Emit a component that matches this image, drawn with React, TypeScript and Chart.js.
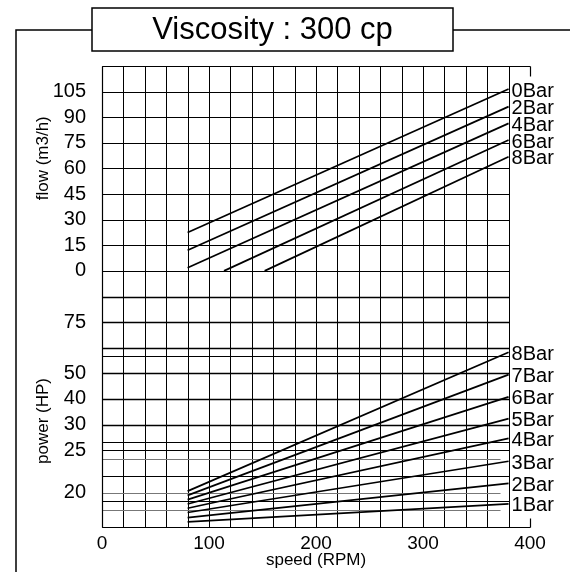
import React, { useEffect, useRef } from 'react';
import { Chart, registerables } from 'chart.js';

Chart.register(...registerables);

// ---- data ----
const titleText = 'Viscosity : 300 cp';

const flowSeries = ['0Bar', '2Bar', '4Bar', '6Bar', '8Bar'];
const flowStartSpeed = [80, 80, 80, 114, 152];
const flowStartValue = [22.5, 12.1, 1.8, 0, 0];
const flowEndSpeed = [380, 380, 380, 380, 380];
const flowEndValue = [106.5, 96.2, 86.4, 76.6, 66.8];

const powerSeries = ['1Bar', '2Bar', '3Bar', '4Bar', '5Bar', '6Bar', '7Bar', '8Bar'];
const powerStartSpeed = [80, 80, 80, 80, 80, 80, 80, 80];
const powerStartHP = [16.6, 17.1, 17.7, 18.2, 18.7, 19.2, 19.7, 20.2];
const powerEndSpeed = [380, 380, 380, 380, 380, 380, 380, 380];
const powerEndHP = [18.7, 21.1, 23.7, 27.3, 32.3, 40.8, 49.5, 60.3];

// tick labels
const xTicks = [0, 100, 200, 300, 400];
const flowTicks = [0, 15, 30, 45, 60, 75, 90, 105];
const powerTicks = [20, 25, 30, 40, 50, 75];
// where the (broken, non-linear) power ticks sit on the shared vertical axis
const powerTickPos = [-130, -105, -90, -75, -60, -30];

// shared vertical axis range and grid
const axisMin = -150;
const axisMax = 120;
const gridSpeeds = [0, 20, 40, 60, 80, 100, 120, 140, 160, 180, 200, 220, 240, 260, 280, 300, 320, 340, 360, 380];
const gridLevels = [120, 105, 90, 75, 60, 45, 30, 15, 0, -15, -30, -45, -50, -60, -75, -90, -100, -105, -120, -135, -150];
const heavyLevels = [-15, -30, -45, -60, -75, -90];
const shortLevels = [-110, -130, -140];
const gridEnd = 380;
const shortEnd = 372;

// map horsepower onto the shared vertical axis (piecewise through tick positions)
function hpToAxis(hp: number): number {
  const n = powerTicks.length;
  let i = 0;
  if (hp <= powerTicks[0]) i = 0;
  else if (hp >= powerTicks[n - 1]) i = n - 2;
  else {
    while (i < n - 2 && hp > powerTicks[i + 1]) i++;
  }
  const h0 = powerTicks[i], h1 = powerTicks[i + 1];
  const p0 = powerTickPos[i], p1 = powerTickPos[i + 1];
  return p0 + ((hp - h0) / (h1 - h0)) * (p1 - p0);
}

const FONT_HELV = '"Liberation Sans", Arial, Helvetica, sans-serif';

const gridPlugin = {
  id: 'customGrid',
  beforeDatasetsDraw(chart: any) {
    const { ctx, scales } = chart;
    const x = scales.x, y = scales.y;
    const X = (v: number) => Math.round(x.getPixelForValue(v)) + 0.5;
    const Y = (v: number) => Math.round(y.getPixelForValue(v)) + 0.5;
    const line = (x1: number, y1: number, x2: number, y2: number) => {
      ctx.beginPath();
      ctx.moveTo(x1, y1);
      ctx.lineTo(x2, y2);
      ctx.stroke();
    };
    ctx.save();
    ctx.strokeStyle = '#000';
    ctx.lineWidth = 1;
    for (const s of gridSpeeds) line(X(s), Y(axisMax), X(s), Y(axisMin));
    for (const lv of gridLevels) {
      ctx.lineWidth = heavyLevels.includes(lv) ? 1.6 : 1;
      line(X(0), Y(lv), X(gridEnd), Y(lv));
    }
    ctx.lineWidth = 1;
    ctx.strokeStyle = '#777';
    for (const lv of shortLevels) line(X(0), Y(lv), X(shortEnd), Y(lv));
    // frame
    ctx.strokeStyle = '#000';
    ctx.lineWidth = 1.2;
    line(X(0), Y(axisMax), X(400), Y(axisMax));
    line(X(0), Y(axisMin), X(400), Y(axisMin));
    line(X(0), Y(axisMax), X(0), Y(axisMin));
    line(X(400), Y(axisMax), X(400), Y(axisMax) + 10);
    line(X(400), Y(axisMin), X(400), Y(axisMin) - 9);
    ctx.restore();
  },
  afterDatasetsDraw(chart: any) {
    const { ctx } = chart;
    ctx.save();
    ctx.fillStyle = '#000';
    ctx.font = `20px ${FONT_HELV}`;
    ctx.textAlign = 'left';
    ctx.textBaseline = 'middle';
    chart.data.datasets.forEach((ds: any, i: number) => {
      const meta = chart.getDatasetMeta(i);
      const pt = meta.data[meta.data.length - 1];
      ctx.fillText(ds.label, pt.x + 3, pt.y + 2);
    });
    ctx.restore();
  },
  afterDraw(chart: any) {
    const { ctx, scales } = chart;
    const y = scales.y;
    ctx.save();
    // outer frame and title box
    ctx.strokeStyle = '#000';
    ctx.lineWidth = 1.5;
    const boxL = 92, boxR = 453, boxT = 8, boxB = 51, frameY = 30, frameX = 16;
    ctx.beginPath();
    ctx.moveTo(frameX, 572);
    ctx.lineTo(frameX, frameY);
    ctx.lineTo(boxL, frameY);
    ctx.moveTo(boxR, frameY);
    ctx.lineTo(570, frameY);
    ctx.stroke();
    ctx.strokeRect(boxL, boxT, boxR - boxL, boxB - boxT);
    ctx.fillStyle = '#000';
    ctx.font = `31px ${FONT_HELV}`;
    ctx.textAlign = 'center';
    ctx.textBaseline = 'middle';
    ctx.fillText(titleText, (boxL + boxR) / 2, (boxT + boxB) / 2 + 1);
    // vertical axis titles
    ctx.font = `17px ${FONT_HELV}`;
    const drawRot = (text: string, cx: number, cy: number) => {
      ctx.save();
      ctx.translate(cx, cy);
      ctx.rotate(-Math.PI / 2);
      ctx.fillText(text, 0, 0);
      ctx.restore();
    };
    const flowMid = (y.getPixelForValue(flowTicks[0]) + y.getPixelForValue(flowTicks[flowTicks.length - 1])) / 2;
    drawRot('flow (m3/h)', 43, flowMid - 23);
    drawRot('power (HP)', 43, 421);
    ctx.restore();
  },
};

export default function App() {
  const ref = useRef<HTMLCanvasElement | null>(null);
  useEffect(() => {
    if (!ref.current) return;
    const datasets: any[] = [];
    flowSeries.forEach((name, i) => {
      datasets.push({
        label: name,
        data: [
          { x: flowStartSpeed[i], y: flowStartValue[i] },
          { x: flowEndSpeed[i], y: flowEndValue[i] },
        ],
        borderColor: '#000',
        borderWidth: 1.7,
        pointRadius: 0,
        tension: 0,
      });
    });
    powerSeries.forEach((name, i) => {
      datasets.push({
        label: name,
        data: [
          { x: powerStartSpeed[i], y: hpToAxis(powerStartHP[i]) },
          { x: powerEndSpeed[i], y: hpToAxis(powerEndHP[i]) },
        ],
        borderColor: '#000',
        borderWidth: 1.7,
        pointRadius: 0,
        tension: 0,
      });
    });
    const chart = new Chart(ref.current, {
      type: 'line',
      data: { datasets },
      options: {
        animation: false,
        responsive: false,
        devicePixelRatio: 1,
        layout: { padding: { left: 0, top: 66, right: 40, bottom: 0 } },
        plugins: { legend: { display: false }, tooltip: { enabled: false }, title: { display: false } },
        scales: {
          x: {
            type: 'linear',
            min: 0,
            max: 400,
            grid: { display: false },
            border: { display: false },
            afterBuildTicks: (scale: any) => {
              scale.ticks = xTicks.map((v) => ({ value: v }));
            },
            afterFit: (scale: any) => {
              scale.height = 45;
            },
            ticks: {
              color: '#000',
              font: { family: FONT_HELV, size: 19 },
              padding: -3,
              maxRotation: 0,
              autoSkip: false,
            },
            title: {
              display: true,
              text: 'speed (RPM)',
              color: '#000',
              font: { family: FONT_HELV, size: 17 },
              padding: { top: 0, bottom: 1 },
            },
          },
          y: {
            type: 'linear',
            min: axisMin,
            max: axisMax,
            grid: { display: false },
            border: { display: false },
            afterBuildTicks: (scale: any) => {
              scale.ticks = [...flowTicks, ...powerTickPos].map((v) => ({ value: v }));
            },
            afterFit: (scale: any) => {
              scale.width = 102;
            },
            ticks: {
              color: '#000',
              font: { family: FONT_HELV, size: 20 },
              padding: 8,
              autoSkip: false,
              callback: (value: any) => {
                const v = Number(value);
                const fi = flowTicks.indexOf(v);
                if (fi >= 0) return String(flowTicks[fi]);
                const pi = powerTickPos.indexOf(v);
                if (pi >= 0) return String(powerTicks[pi]);
                return '';
              },
            },
          },
        },
      },
      plugins: [gridPlugin],
    });
    return () => chart.destroy();
  }, []);
  return (
    <div style={{ position: 'fixed', left: 0, top: 0, width: 570, height: 572, background: '#fff' }}>
      <canvas ref={ref} width={570} height={572} style={{ display: 'block' }} />
    </div>
  );
}
